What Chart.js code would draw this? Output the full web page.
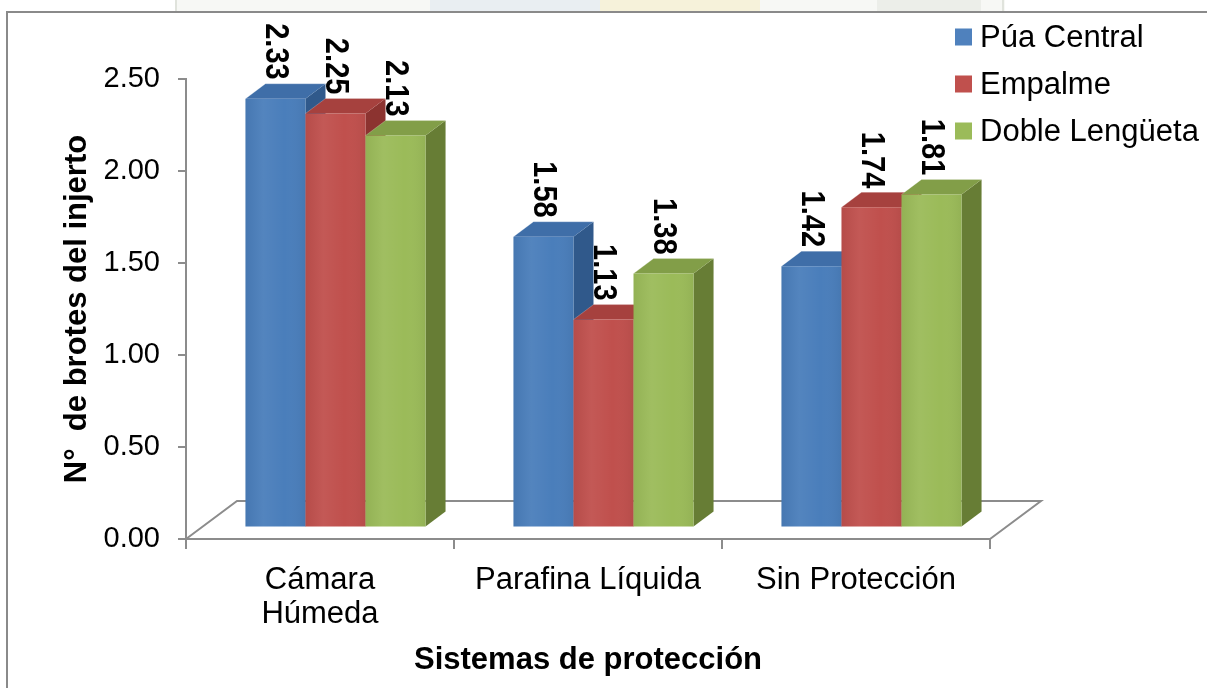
<!DOCTYPE html>
<html>
<head>
<meta charset="utf-8">
<title>N° de brotes del injerto</title>
<style>
  html, body { margin: 0; padding: 0; background: #ffffff; }
  #wrap { position: relative; width: 1207px; height: 688px; }
  canvas { display: block; }
</style>
<script src="https://cdn.jsdelivr.net/npm/chart.js@4.4.1/dist/chart.umd.min.js"></script>
</head>
<body>
<div id="wrap"><canvas id="chart" width="1207" height="688"></canvas></div>
<script>
// ---- data ----
const categories = [['Cámara', 'Húmeda'], 'Parafina Líquida', 'Sin Protección'];
const seriesNames = ['Púa Central', 'Empalme', 'Doble Lengüeta'];
const puaCentral = [2.33, 1.58, 1.42];
const empalme = [2.25, 1.13, 1.74];
const dobleLengueta = [2.13, 1.38, 1.81];
const yMin = 0;
const yMax = 2.5;
const yStep = 0.5;
const titleY = 'N°  de brotes del injerto';
const titleX = 'Sistemas de protección';

// ---- style ----
const FONT = '"Liberation Sans", Arial, sans-serif';
const AXIS_GRAY = '#8c8c8c';
const palette = [
  { front: '#4a7ebb', top: '#3f6ea8', side: '#30598b', key: '#4f81bd' },
  { front: '#c0504d', top: '#a6413e', side: '#8c3330', key: '#c0504d' },
  { front: '#9bbb59', top: '#829e48', side: '#677d35', key: '#9bbb59' }
];
// oblique projection of the 3-D bars
const FRONT = { dx: 15.5, dy: -11.5 };   // bar front face inside the floor
const DEPTH = { dx: 20, dy: -15 };       // bar depth
const FLOOR = { dx: 51, dy: -38 };       // floor depth

const seriesValues = [puaCentral, empalme, dobleLengueta];

function poly(ctx, pts, fill) {
  ctx.beginPath();
  ctx.moveTo(pts[0][0], pts[0][1]);
  for (let k = 1; k < pts.length; k++) ctx.lineTo(pts[k][0], pts[k][1]);
  ctx.closePath();
  ctx.fillStyle = fill;
  ctx.fill();
}

const bars3d = {
  id: 'bars3d',
  beforeDraw(chart) {
    const ctx = chart.ctx;
    ctx.save();
    // faint letterhead strip above the frame
    ctx.fillStyle = '#f7f8f5';
    ctx.fillRect(175, 0, 830, 12);
    ctx.fillStyle = 'rgba(160,185,230,0.16)';
    ctx.fillRect(430, 0, 170, 12);
    ctx.fillStyle = 'rgba(245,220,110,0.20)';
    ctx.fillRect(600, 0, 160, 12);
    ctx.fillStyle = '#eceee9';
    ctx.fillRect(877, 0, 104, 12);
    ctx.fillStyle = '#e0e3dc';
    ctx.fillRect(175, 0, 2, 12);
    ctx.fillRect(1002, 0, 2, 12);
    // chart frame
    ctx.strokeStyle = '#8a8a8a';
    ctx.lineWidth = 2;
    ctx.beginPath();
    ctx.moveTo(1207, 12);
    ctx.lineTo(7, 12);
    ctx.lineTo(7, 688);
    ctx.stroke();
    ctx.restore();
  },
  beforeDatasetsDraw(chart) {
    const ctx = chart.ctx;
    const xs = chart.scales.x;
    const ys = chart.scales.y;
    const y0 = ys.getPixelForValue(0);

    // floor outline
    ctx.save();
    ctx.strokeStyle = AXIS_GRAY;
    ctx.lineWidth = 2;
    ctx.beginPath();
    ctx.moveTo(xs.left, y0);
    ctx.lineTo(xs.left + FLOOR.dx, y0 + FLOOR.dy);
    ctx.lineTo(xs.right + FLOOR.dx, y0 + FLOOR.dy);
    ctx.lineTo(xs.right, y0);
    ctx.stroke();
    ctx.restore();

    // bars, left to right inside each group
    ctx.save();
    ctx.translate(FRONT.dx, FRONT.dy);
    chart.data.datasets.forEach((ds, i) => {
      const meta = chart.getDatasetMeta(i);
      const c = palette[i];
      meta.data.forEach(bar => {
        const p = bar.getProps(['x', 'y', 'base', 'width'], true);
        const l = p.x - p.width / 2;
        const r = p.x + p.width / 2;
        poly(ctx, [[r, p.y], [r + DEPTH.dx, p.y + DEPTH.dy], [r + DEPTH.dx, p.base + DEPTH.dy], [r, p.base]], c.side);
        poly(ctx, [[l, p.y], [l + DEPTH.dx, p.y + DEPTH.dy], [r + DEPTH.dx, p.y + DEPTH.dy], [r, p.y]], c.top);
        bar.draw(ctx, chart.chartArea);
        // soft shading across the front face
        const g = ctx.createLinearGradient(l, 0, r, 0);
        g.addColorStop(0, 'rgba(0,0,0,0.05)');
        g.addColorStop(0.3, 'rgba(255,255,255,0.05)');
        g.addColorStop(0.65, 'rgba(255,255,255,0)');
        g.addColorStop(1, 'rgba(0,0,0,0.05)');
        ctx.fillStyle = g;
        ctx.fillRect(l, p.y, p.width, p.base - p.y);
        // light edge on the top face
        ctx.strokeStyle = 'rgba(255,255,255,0.22)';
        ctx.lineWidth = 1;
        ctx.beginPath();
        ctx.moveTo(l, p.y);
        ctx.lineTo(l + DEPTH.dx, p.y + DEPTH.dy);
        ctx.lineTo(r + DEPTH.dx, p.y + DEPTH.dy);
        ctx.stroke();
      });
    });
    ctx.restore();

    // rotated value labels above each bar
    ctx.save();
    ctx.fillStyle = '#000000';
    ctx.font = 'bold 30px ' + FONT;
    ctx.textAlign = 'right';
    ctx.textBaseline = 'middle';
    chart.data.datasets.forEach((ds, i) => {
      const meta = chart.getDatasetMeta(i);
      meta.data.forEach((bar, j) => {
        const p = bar.getProps(['x', 'y'], true);
        ctx.save();
        ctx.translate(p.x + FRONT.dx - 1, p.y + FRONT.dy + DEPTH.dy - 4);
        ctx.rotate(Math.PI / 2);
        ctx.scale(0.97, 1.08);
        ctx.fillText(ds.data[j].toFixed(2), 0, 0);
        ctx.restore();
      });
    });
    ctx.restore();
    return false;
  },
  afterDraw(chart) {
    // legend
    const ctx = chart.ctx;
    ctx.save();
    ctx.font = '31px ' + FONT;
    ctx.textAlign = 'left';
    ctx.textBaseline = 'middle';
    chart.data.datasets.forEach((ds, i) => {
      const cy = 37 + i * 47;
      ctx.fillStyle = palette[i].key;
      ctx.fillRect(955, cy - 8.5, 17, 17);
      ctx.fillStyle = '#000000';
      ctx.fillText(ds.label, 980, cy + 1);
    });
    ctx.restore();
  }
};

new Chart(document.getElementById('chart').getContext('2d'), {
  type: 'bar',
  data: {
    labels: categories,
    datasets: seriesNames.map((name, i) => ({
      label: name,
      data: seriesValues[i],
      backgroundColor: palette[i].front,
      borderWidth: 0,
      clip: false,
      categoryPercentage: 0.672,
      barPercentage: 1.0
    }))
  },
  options: {
    responsive: false,
    animation: false,
    devicePixelRatio: 1,
    layout: { padding: { left: 59, top: 79, right: 217, bottom: 9 } },
    plugins: { legend: { display: false }, tooltip: { enabled: false } },
    scales: {
      x: {
        offset: true,
        grid: { offset: true, drawOnChartArea: false, drawTicks: true, tickLength: 10, color: AXIS_GRAY, lineWidth: 2 },
        border: { color: AXIS_GRAY, width: 2 },
        ticks: {
          color: '#000000',
          font: { family: FONT, size: 31, lineHeight: 1.1 },
          padding: 14,
          maxRotation: 0,
          minRotation: 0,
          autoSkip: false
        },
        title: {
          display: true,
          text: titleX,
          color: '#000000',
          font: { family: FONT, size: 31, weight: 'bold', lineHeight: 1.2 },
          padding: { top: 0, bottom: 0 }
        },
        afterFit(scale) { scale.height = 140; }
      },
      y: {
        min: yMin,
        max: yMax,
        grid: { drawOnChartArea: false, drawTicks: true, tickLength: 8, color: AXIS_GRAY, lineWidth: 2 },
        border: { color: AXIS_GRAY, width: 2 },
        ticks: {
          stepSize: yStep,
          color: '#000000',
          font: { family: FONT, size: 29 },
          padding: 18,
          callback: v => Number(v).toFixed(2)
        },
        title: {
          display: true,
          text: titleY,
          color: '#000000',
          font: { family: FONT, size: 31, weight: 'bold', lineHeight: 1.2 },
          padding: { top: 0, bottom: 0 }
        },
        afterFit(scale) { scale.width = 127; }
      }
    }
  },
  plugins: [bars3d]
});
</script>
</body>
</html>
